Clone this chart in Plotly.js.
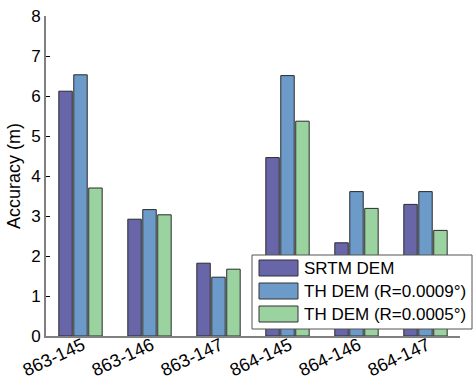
<!DOCTYPE html>
<html>
<head>
<meta charset="utf-8">
<script src="https://cdn.plot.ly/plotly-3.0.1.min.js"></script>
<style>html,body{margin:0;padding:0;background:#fff;}#chart{width:474px;height:382px;}</style>
</head>
<body>
<div id="chart"></div>
<script>
const categories = ["863-145", "863-146", "863-147", "864-145", "864-146", "864-147"];
const seriesNames = ["SRTM DEM", "TH DEM (R=0.0009°)", "TH DEM (R=0.0005°)"];
const srtm = [6.12, 2.92, 1.82, 4.46, 2.33, 3.29];
const th0009 = [6.53, 3.16, 1.47, 6.51, 3.61, 3.61];
const th0005 = [3.70, 3.03, 1.67, 5.37, 3.19, 2.64];
const yTicks = [0, 1, 2, 3, 4, 5, 6, 7, 8];
const colors = ["#6865a8", "#6c9ac9", "#9ad3a0"];

const FONT = '"Liberation Sans", Arial, sans-serif';
const seriesValues = [srtm, th0009, th0005];

const traces = seriesValues.map((vals, i) => ({
  type: 'bar',
  x: categories,
  y: vals,
  name: seriesNames[i],
  marker: {color: colors[i], line: {color: '#2a2a2a', width: 1}},
  showlegend: false,
  hoverinfo: 'x+y'
}));

// manual legend (wide swatches) in paper coordinates
const L = 46, R = 460, T = 16, B = 336;
const px = v => (v - L) / (R - L);
const py = v => (B - v) / (B - T);
const shapes = [{
  type: 'rect', xref: 'paper', yref: 'paper', layer: 'above',
  x0: px(252), x1: px(472), y0: py(329), y1: py(255),
  fillcolor: '#ffffff', line: {color: '#555555', width: 1}
}];
const annotations = [];
seriesNames.forEach((n, i) => {
  const cy = 268 + i * 23;
  shapes.push({
    type: 'rect', xref: 'paper', yref: 'paper', layer: 'above',
    x0: px(259), x1: px(298), y0: py(cy + 8), y1: py(cy - 8),
    fillcolor: colors[i], line: {color: '#333333', width: 1}
  });
  annotations.push({
    xref: 'paper', yref: 'paper', x: px(302), y: py(cy),
    xanchor: 'left', yanchor: 'middle', showarrow: false,
    text: n, font: {family: FONT, size: 17, color: '#000'}
  });
});

const layout = {
  width: 474, height: 382,
  margin: {l: 46, r: 14, t: 16, b: 46},
  paper_bgcolor: '#fff', plot_bgcolor: '#fff',
  barmode: 'group', bargap: 0.35, bargroupgap: 0.1,
  font: {family: FONT, size: 17, color: '#000'},
  xaxis: {
    type: 'category', range: [-0.5, 5.5],
    showline: true, linecolor: '#808080', linewidth: 2,
    ticks: '', tickangle: -25, showgrid: false, zeroline: false,
    ticklabelstandoff: -10, ticklabelshift: 2,
    tickfont: {family: FONT, size: 18, color: '#000'}
  },
  yaxis: {
    range: [0, 8], tickvals: yTicks, ticktext: yTicks.map(String),
    showline: true, linecolor: '#808080', linewidth: 2,
    ticks: 'inside', ticklen: 4, tickcolor: '#000', tickwidth: 1,
    showgrid: false, zeroline: false,
    tickfont: {family: FONT, size: 17, color: '#000'},
    title: {text: 'Accuracy (m)', font: {family: FONT, size: 18, color: '#000'}, standoff: 6}
  },
  shapes: shapes,
  annotations: annotations
};

Plotly.newPlot('chart', traces, layout, {displayModeBar: false, staticPlot: true});
</script>
</body>
</html>
